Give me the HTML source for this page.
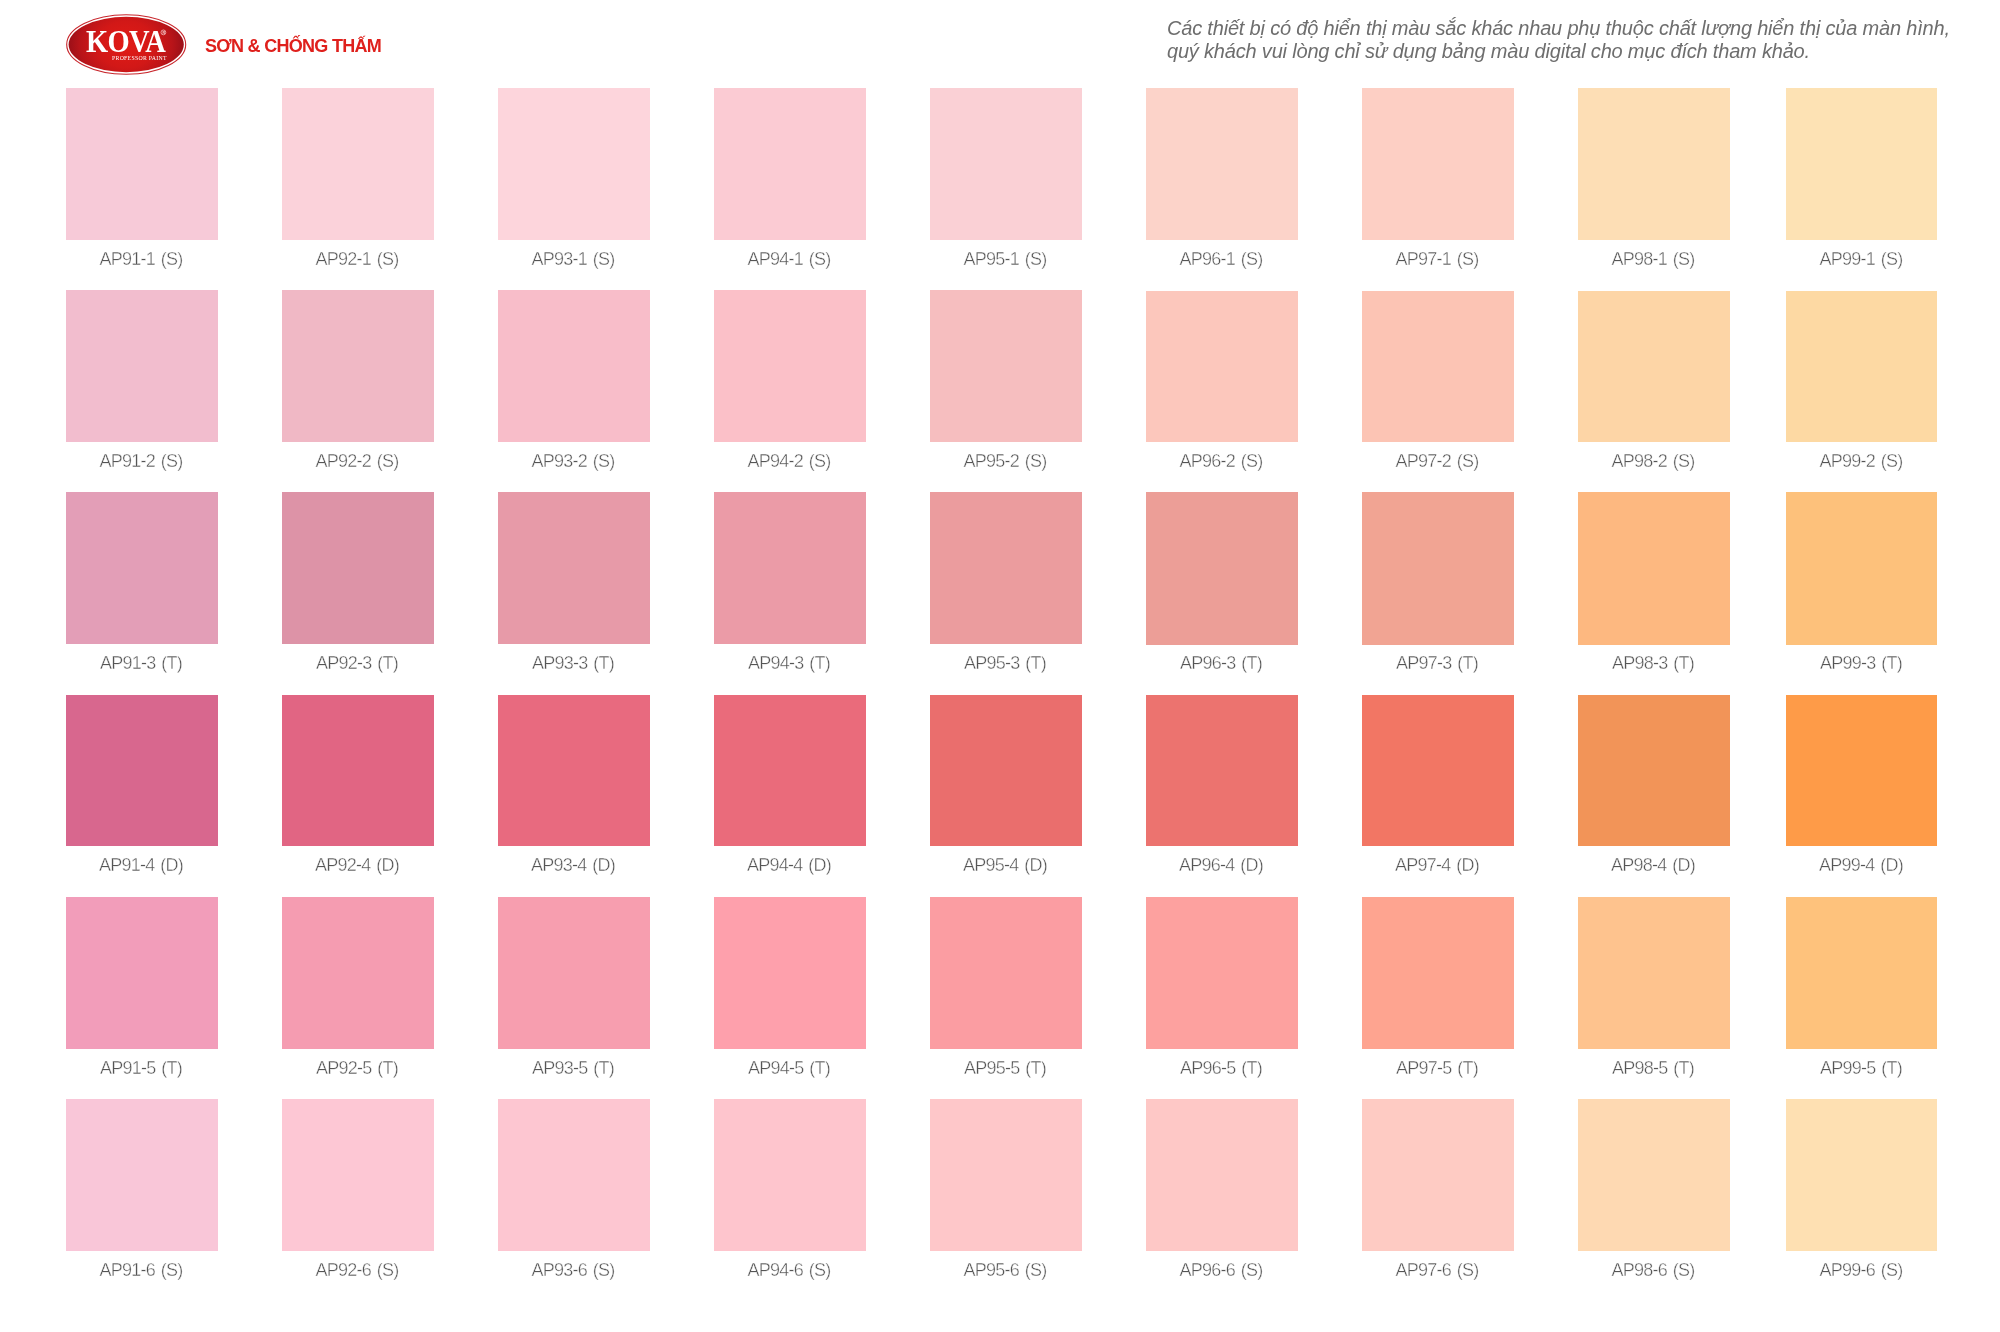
<!DOCTYPE html>
<html><head><meta charset="utf-8"><style>
html,body{margin:0;padding:0;background:#fff;}
body{width:2000px;height:1332px;position:relative;overflow:hidden;font-family:"Liberation Sans",sans-serif;}
.s{position:absolute;}
.l{position:absolute;width:120px;text-align:center;font-size:18px;line-height:20px;letter-spacing:-0.75px;color:#555;-webkit-text-stroke:0.4px #fff;word-spacing:1.5px;white-space:nowrap;will-change:transform;}
.hdr{position:absolute;left:205px;top:36px;will-change:transform;font-weight:bold;font-size:18px;line-height:20px;letter-spacing:-0.7px;color:#df201c;white-space:nowrap;}
.note{position:absolute;left:1167px;top:17.2px;will-change:transform;font-style:italic;font-size:20px;line-height:23.1px;letter-spacing:-0.19px;color:#6e6e6e;white-space:nowrap;}
</style></head><body>
<svg style="position:absolute;left:0;top:0;will-change:transform" width="260" height="90" viewBox="0 0 260 90">
<defs><radialGradient id="g" cx="126" cy="44.5" r="58" gradientUnits="userSpaceOnUse" gradientTransform="translate(126 44.5) scale(1 0.8) translate(-126 -44.5)">
<stop offset="0" stop-color="#e11b16"/><stop offset="0.5" stop-color="#d21817"/><stop offset="0.8" stop-color="#b81419"/><stop offset="1" stop-color="#9a0f18"/></radialGradient></defs>
<ellipse cx="126.2" cy="44.5" rx="59.5" ry="29.8" fill="none" stroke="#c8262c" stroke-width="1.1"/>
<ellipse cx="126.2" cy="44.5" rx="57.6" ry="27.7" fill="url(#g)"/>
<text transform="translate(86 52) scale(0.95 1.035)" font-family="Liberation Serif" font-weight="bold" font-size="30" letter-spacing="-0.7" fill="#fff">KOVA</text>
<circle cx="163.4" cy="32.4" r="2.4" fill="none" stroke="#f6d2d2" stroke-width="0.7"/>
<text x="162.4" y="33.8" font-family="Liberation Sans" font-weight="bold" font-size="3.6" fill="#f6d2d2">R</text>
<text x="112" y="60" font-family="Liberation Serif" font-size="5.8" letter-spacing="0.28" fill="#fff">PROFESSOR PAINT</text>
</svg>
<div class="hdr">SƠN &amp; CHỐNG THẤM</div>
<div class="note">Các thiết bị có độ hiển thị màu sắc khác nhau phụ thuộc chất lượng hiển thị của màn hình,<br>quý khách vui lòng chỉ sử dụng bảng màu digital cho mục đích tham khảo.</div>
<div class="s" style="left:66px;top:88px;width:152px;height:152px;background:#f7cad8"></div><div class="l" style="left:81.0px;top:248.56px">AP91-1 (S)</div><div class="s" style="left:282px;top:88px;width:152px;height:152px;background:#fbd2da"></div><div class="l" style="left:297.0px;top:248.56px">AP92-1 (S)</div><div class="s" style="left:498px;top:88px;width:152px;height:152px;background:#fdd5dc"></div><div class="l" style="left:513.0px;top:248.56px">AP93-1 (S)</div><div class="s" style="left:714px;top:88px;width:152px;height:152px;background:#fbcbd3"></div><div class="l" style="left:729.0px;top:248.56px">AP94-1 (S)</div><div class="s" style="left:930px;top:88px;width:152px;height:152px;background:#fad0d5"></div><div class="l" style="left:945.0px;top:248.56px">AP95-1 (S)</div><div class="s" style="left:1146px;top:88px;width:152px;height:152px;background:#fcd3c9"></div><div class="l" style="left:1161.0px;top:248.56px">AP96-1 (S)</div><div class="s" style="left:1362px;top:88px;width:152px;height:152px;background:#fdcfc4"></div><div class="l" style="left:1377.0px;top:248.56px">AP97-1 (S)</div><div class="s" style="left:1578px;top:88px;width:152px;height:152px;background:#fddeb5"></div><div class="l" style="left:1593.0px;top:248.56px">AP98-1 (S)</div><div class="s" style="left:1786px;top:88px;width:151px;height:152px;background:#fde2b4"></div><div class="l" style="left:1800.5px;top:248.56px">AP99-1 (S)</div><div class="s" style="left:66px;top:290px;width:152px;height:152px;background:#f2bdce"></div><div class="l" style="left:81.0px;top:450.56px">AP91-2 (S)</div><div class="s" style="left:282px;top:290px;width:152px;height:152px;background:#f0b8c5"></div><div class="l" style="left:297.0px;top:450.56px">AP92-2 (S)</div><div class="s" style="left:498px;top:290px;width:152px;height:152px;background:#f8bdc9"></div><div class="l" style="left:513.0px;top:450.56px">AP93-2 (S)</div><div class="s" style="left:714px;top:290px;width:152px;height:152px;background:#fbc0c8"></div><div class="l" style="left:729.0px;top:450.56px">AP94-2 (S)</div><div class="s" style="left:930px;top:290px;width:152px;height:152px;background:#f6bebf"></div><div class="l" style="left:945.0px;top:450.56px">AP95-2 (S)</div><div class="s" style="left:1146px;top:291px;width:152px;height:151px;background:#fcc7bc"></div><div class="l" style="left:1161.0px;top:450.56px">AP96-2 (S)</div><div class="s" style="left:1362px;top:291px;width:152px;height:151px;background:#fcc4b4"></div><div class="l" style="left:1377.0px;top:450.56px">AP97-2 (S)</div><div class="s" style="left:1578px;top:291px;width:152px;height:151px;background:#fdd5a6"></div><div class="l" style="left:1593.0px;top:450.56px">AP98-2 (S)</div><div class="s" style="left:1786px;top:291px;width:151px;height:151px;background:#fdd9a3"></div><div class="l" style="left:1800.5px;top:450.56px">AP99-2 (S)</div><div class="s" style="left:66px;top:492px;width:152px;height:152px;background:#e39eb7"></div><div class="l" style="left:81.0px;top:652.56px">AP91-3 (T)</div><div class="s" style="left:282px;top:492px;width:152px;height:152px;background:#dd93a7"></div><div class="l" style="left:297.0px;top:652.56px">AP92-3 (T)</div><div class="s" style="left:498px;top:492px;width:152px;height:152px;background:#e79aa8"></div><div class="l" style="left:513.0px;top:652.56px">AP93-3 (T)</div><div class="s" style="left:714px;top:492px;width:152px;height:152px;background:#eb9ba7"></div><div class="l" style="left:729.0px;top:652.56px">AP94-3 (T)</div><div class="s" style="left:930px;top:492px;width:152px;height:152px;background:#eb9c9e"></div><div class="l" style="left:945.0px;top:652.56px">AP95-3 (T)</div><div class="s" style="left:1146px;top:492px;width:152px;height:153px;background:#ec9e97"></div><div class="l" style="left:1161.0px;top:652.56px">AP96-3 (T)</div><div class="s" style="left:1362px;top:492px;width:152px;height:153px;background:#f1a493"></div><div class="l" style="left:1377.0px;top:652.56px">AP97-3 (T)</div><div class="s" style="left:1578px;top:492px;width:152px;height:153px;background:#fdb880"></div><div class="l" style="left:1593.0px;top:652.56px">AP98-3 (T)</div><div class="s" style="left:1786px;top:492px;width:151px;height:153px;background:#fdc17b"></div><div class="l" style="left:1800.5px;top:652.56px">AP99-3 (T)</div><div class="s" style="left:66px;top:695px;width:152px;height:151px;background:#d8678e"></div><div class="l" style="left:81.0px;top:854.56px">AP91-4 (D)</div><div class="s" style="left:282px;top:695px;width:152px;height:151px;background:#e16583"></div><div class="l" style="left:297.0px;top:854.56px">AP92-4 (D)</div><div class="s" style="left:498px;top:695px;width:152px;height:151px;background:#e86a7f"></div><div class="l" style="left:513.0px;top:854.56px">AP93-4 (D)</div><div class="s" style="left:714px;top:695px;width:152px;height:151px;background:#ea6b7b"></div><div class="l" style="left:729.0px;top:854.56px">AP94-4 (D)</div><div class="s" style="left:930px;top:695px;width:152px;height:151px;background:#ea6e6d"></div><div class="l" style="left:945.0px;top:854.56px">AP95-4 (D)</div><div class="s" style="left:1146px;top:695px;width:152px;height:151px;background:#ec736f"></div><div class="l" style="left:1161.0px;top:854.56px">AP96-4 (D)</div><div class="s" style="left:1362px;top:695px;width:152px;height:151px;background:#f27664"></div><div class="l" style="left:1377.0px;top:854.56px">AP97-4 (D)</div><div class="s" style="left:1578px;top:695px;width:152px;height:151px;background:#f29458"></div><div class="l" style="left:1593.0px;top:854.56px">AP98-4 (D)</div><div class="s" style="left:1786px;top:695px;width:151px;height:151px;background:#fe9b48"></div><div class="l" style="left:1800.5px;top:854.56px">AP99-4 (D)</div><div class="s" style="left:66px;top:897px;width:152px;height:152px;background:#f29dba"></div><div class="l" style="left:81.0px;top:1057.56px">AP91-5 (T)</div><div class="s" style="left:282px;top:897px;width:152px;height:152px;background:#f59cb1"></div><div class="l" style="left:297.0px;top:1057.56px">AP92-5 (T)</div><div class="s" style="left:498px;top:897px;width:152px;height:152px;background:#f79eaf"></div><div class="l" style="left:513.0px;top:1057.56px">AP93-5 (T)</div><div class="s" style="left:714px;top:897px;width:152px;height:152px;background:#fea0ac"></div><div class="l" style="left:729.0px;top:1057.56px">AP94-5 (T)</div><div class="s" style="left:930px;top:897px;width:152px;height:152px;background:#fb9da2"></div><div class="l" style="left:945.0px;top:1057.56px">AP95-5 (T)</div><div class="s" style="left:1146px;top:897px;width:152px;height:152px;background:#fda19f"></div><div class="l" style="left:1161.0px;top:1057.56px">AP96-5 (T)</div><div class="s" style="left:1362px;top:897px;width:152px;height:152px;background:#fea490"></div><div class="l" style="left:1377.0px;top:1057.56px">AP97-5 (T)</div><div class="s" style="left:1578px;top:897px;width:152px;height:152px;background:#fec38e"></div><div class="l" style="left:1593.0px;top:1057.56px">AP98-5 (T)</div><div class="s" style="left:1786px;top:897px;width:151px;height:152px;background:#fec27c"></div><div class="l" style="left:1800.5px;top:1057.56px">AP99-5 (T)</div><div class="s" style="left:66px;top:1099px;width:152px;height:152px;background:#f9c6d8"></div><div class="l" style="left:81.0px;top:1259.56px">AP91-6 (S)</div><div class="s" style="left:282px;top:1099px;width:152px;height:152px;background:#fdc7d4"></div><div class="l" style="left:297.0px;top:1259.56px">AP92-6 (S)</div><div class="s" style="left:498px;top:1099px;width:152px;height:152px;background:#fdc6d1"></div><div class="l" style="left:513.0px;top:1259.56px">AP93-6 (S)</div><div class="s" style="left:714px;top:1099px;width:152px;height:152px;background:#fec5cd"></div><div class="l" style="left:729.0px;top:1259.56px">AP94-6 (S)</div><div class="s" style="left:930px;top:1099px;width:152px;height:152px;background:#fec7c9"></div><div class="l" style="left:945.0px;top:1259.56px">AP95-6 (S)</div><div class="s" style="left:1146px;top:1099px;width:152px;height:152px;background:#fec8c6"></div><div class="l" style="left:1161.0px;top:1259.56px">AP96-6 (S)</div><div class="s" style="left:1362px;top:1099px;width:152px;height:152px;background:#fecbc3"></div><div class="l" style="left:1377.0px;top:1259.56px">AP97-6 (S)</div><div class="s" style="left:1578px;top:1099px;width:152px;height:152px;background:#fed9b2"></div><div class="l" style="left:1593.0px;top:1259.56px">AP98-6 (S)</div><div class="s" style="left:1786px;top:1099px;width:151px;height:152px;background:#fee0b2"></div><div class="l" style="left:1800.5px;top:1259.56px">AP99-6 (S)</div>
</body></html>
